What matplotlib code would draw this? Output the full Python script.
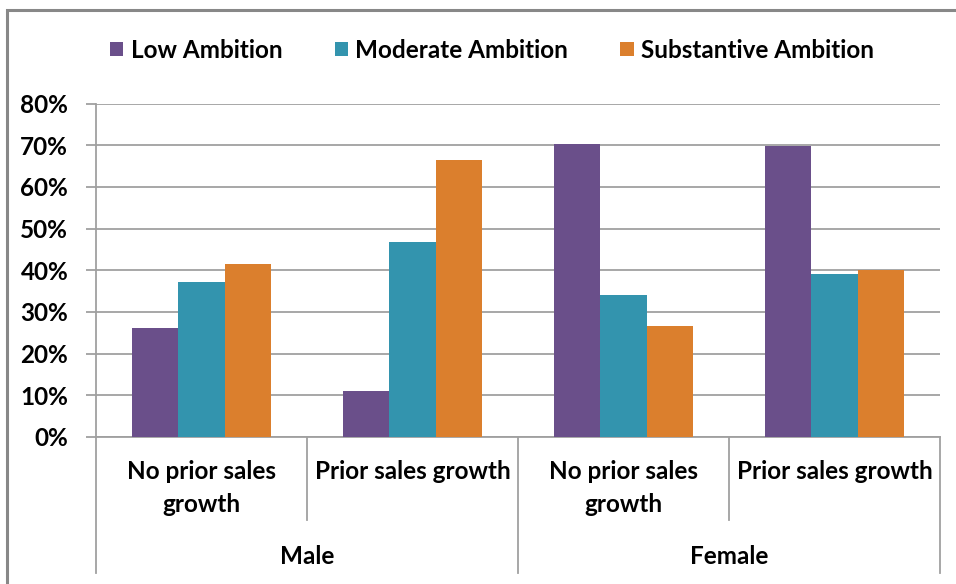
import numpy as np
import matplotlib.pyplot as plt
import matplotlib.transforms as mtransforms
from matplotlib.patches import Rectangle, Patch

plt.rcParams['font.family'] = ['Lato', 'DejaVu Sans']
plt.rcParams['font.weight'] = 'bold'

# data
categories = ['No prior sales\ngrowth', 'Prior sales growth', 'No prior sales\ngrowth', 'Prior sales growth']
groups = ['Male', 'Female']
series = ['Low Ambition', 'Moderate Ambition', 'Substantive Ambition']
low = [26.1, 11.0, 70.3, 69.9]
moderate = [37.2, 46.7, 34.1, 39.1]
substantive = [41.5, 66.4, 26.7, 40.0]
colors = ['#6A4F8A', '#3394AE', '#DB7F2D']
yticks = [0, 10, 20, 30, 40, 50, 60, 70, 80]

fs = 17.5
W, H = 956, 584
fig = plt.figure(figsize=(W / 100, H / 100), dpi=100)
ax = fig.add_axes([96 / W, 1 - 437 / H, (940 - 96) / W, (437 - 103.6) / H])

x = np.arange(len(categories))
bw = 0.22
for i, (vals, c) in enumerate(zip([low, moderate, substantive], colors)):
    ax.bar(x + (i - 1) * bw, vals, bw, color=c, zorder=3, label=series[i])

grid_c = '#A0A0A0'
ax.set_xlim(-0.5, 3.5)
ax.set_ylim(0, 80)
ax.set_yticks(yticks)
ax.set_yticklabels([f'{v}%' for v in yticks], fontsize=fs, fontweight='bold')
ax.yaxis.grid(True, color=grid_c, lw=1.3, zorder=0)
ax.tick_params(axis='y', length=7, color=grid_c, width=1.3, pad=13)
ax.set_xticks([])
for s in ['top', 'right']:
    ax.spines[s].set_visible(False)
ax.spines['left'].set_color(grid_c)
ax.spines['left'].set_linewidth(1.3)
ax.spines['bottom'].set_color(grid_c)
ax.spines['bottom'].set_linewidth(1.3)

# multi-level category axis
ah = 437 - 103.6
trans = mtransforms.blended_transform_factory(ax.transData, ax.transAxes)
inner_bot = -(520 - 437) / ah
outer_bot = -(573 - 437) / ah
for b in [-0.5, 0.5, 1.5, 2.5, 3.5]:
    bot = outer_bot if b in (-0.5, 1.5, 3.5) else inner_bot
    ax.plot([b, b], [0, bot], transform=trans, color=grid_c, lw=1.3, clip_on=False)
for xi, lab in zip(x, categories):
    ax.text(xi, -(460 - 437) / ah, lab, transform=trans, ha='center', va='top',
            fontsize=fs, fontweight='bold', linespacing=1.5)
for gi, g in enumerate(groups):
    ax.text(gi * 2 + 0.5, -(557 - 437) / ah, g, transform=trans, ha='center', va='center',
            fontsize=fs, fontweight='bold')

# legend
handles = [Patch(facecolor=c, label=s) for c, s in zip(colors, series)]
fig.legend(handles=handles, loc='center', bbox_to_anchor=(492 / W, 1 - 50 / H), ncol=3,
           frameon=False, prop={'size': fs, 'weight': 'bold'},
           handlelength=0.55, handleheight=0.55, handletextpad=0.3, columnspacing=2.15)

# chart border
fig.patches.append(Rectangle((7 / W, -0.2), 1.2, 1.2 - 10 / H, transform=fig.transFigure,
                             fill=False, edgecolor='#888888', lw=2.2))

fig.savefig('out.png', dpi=100)
